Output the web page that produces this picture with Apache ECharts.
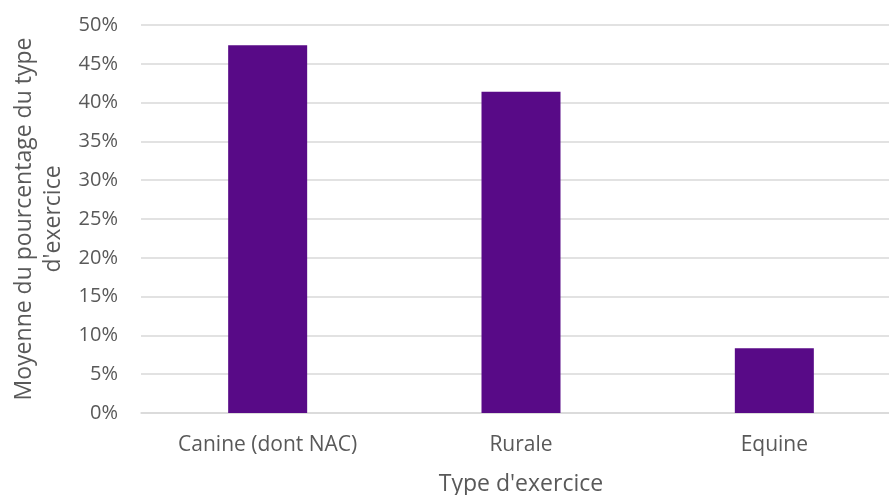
<!DOCTYPE html>
<html><head><meta charset="utf-8">
<script src="https://cdn.jsdelivr.net/npm/echarts@6/dist/echarts.min.js"></script>
<style>html,body{margin:0;padding:0;background:#fff}#c{width:889px;height:495px}</style>
</head><body><div id="c"></div>
<script>
const categories = ["Canine (dont NAC)", "Rurale", "Equine"];
const values = [47.4, 41.4, 8.35];
const yTicks = [0, 5, 10, 15, 20, 25, 30, 35, 40, 45, 50];
const xTitle = "Type d'exercice";
const yTitle = "Moyenne du pourcentage du type\nd'exercice";

const chart = echarts.init(document.getElementById('c'));
const font = "'Open Sans', sans-serif";
chart.setOption({
  animation: false,
  grid: { left: 141, top: 25, width: 760, height: 388, containLabel: false, outerBoundsMode: 'none' },
  xAxis: {
    type: 'category', data: categories,
    axisLine: { show: true, lineStyle: { color: '#D9D9D9', width: 1.5 } },
    axisTick: { show: false },
    axisLabel: { color: '#595959', fontSize: 21, fontFamily: font, margin: 22 },
    name: xTitle, nameLocation: 'middle', nameGap: 60,
    nameTextStyle: { color: '#595959', fontSize: 23, fontFamily: font }
  },
  yAxis: {
    type: 'value', min: yTicks[0], max: yTicks[yTicks.length - 1], interval: 5,
    axisLine: { show: false }, axisTick: { show: false },
    splitLine: { lineStyle: { color: '#D9D9D9', width: 1.5 } },
    axisLabel: { color: '#595959', fontSize: 20, fontFamily: font, margin: 23, formatter: v => v + '%' },
    name: yTitle, nameLocation: 'middle', nameGap: 72, nameRotate: 90,
    nameTextStyle: { color: '#595959', fontSize: 23, fontFamily: font, lineHeight: 29, align: 'center' }
  },
  series: [{
    type: 'bar', data: values, barWidth: 79,
    itemStyle: { color: '#580A87' }
  }]
});
</script></body></html>
